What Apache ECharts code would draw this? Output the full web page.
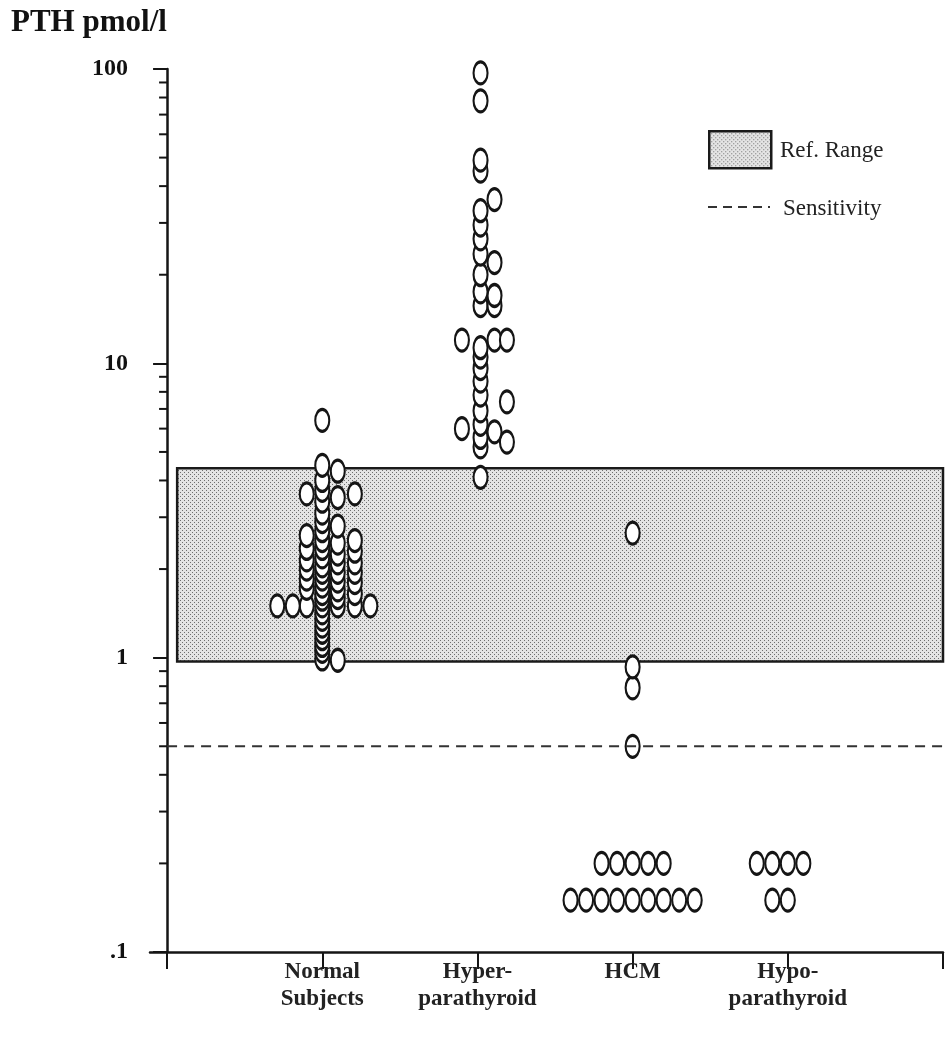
<!DOCTYPE html>
<html><head><meta charset="utf-8">
<script src="https://cdn.jsdelivr.net/npm/echarts@6/dist/echarts.min.js"></script>
<style>html,body{margin:0;padding:0;background:#fff}#c{width:946px;height:1049px}</style>
</head><body><div id="c"></div>
<script>
// ---- data ----
const categories = ['Normal\nSubjects', 'Hyper-\nparathyroid', 'HCM', 'Hypo-\nparathyroid'];
const categoryPositions = [1, 2, 3, 4];
const xTickValues = [0, 1, 2, 3, 4, 5];
const yTickValues = [0.1, 1, 10, 100];
const yTickLabels = ['.1', '1', '10', '100'];
const yMinorTicks = [0.2,0.3,0.4,0.5,0.6,0.7,0.8,0.9, 2,3,4,5,6,7,8,9, 20,30,40,50,60,70,80,90];
const refRange = [0.97, 4.4];
const refRangeX = [0.065, 5];
const sensitivity = 0.5;
const sensitivityX = [0, 5];

const normalPts = [
  [1.0,6.4],[1.0,4.5],[1.0,4.0],[1.0,3.7],[1.0,3.4],[1.0,3.1],[1.0,2.9],[1.0,2.7],[1.0,2.5],[1.0,2.35],
  [1.0,2.2],[1.0,2.05],[1.0,1.95],[1.0,1.85],[1.0,1.75],[1.0,1.65],[1.0,1.58],[1.0,1.5],[1.0,1.42],
  [1.0,1.35],[1.0,1.28],[1.0,1.22],[1.0,1.16],[1.0,1.1],[1.0,1.05],[1.0,0.99],
  [1.1,4.3],[1.1,3.5],[1.1,2.8],[1.1,2.45],[1.1,2.25],[1.1,2.1],[1.1,1.95],[1.1,1.82],[1.1,1.7],
  [1.1,1.6],[1.1,1.5],[1.1,0.98],
  [0.9,3.6],[0.9,2.6],[0.9,2.35],[0.9,2.15],[0.9,2.0],[0.9,1.85],[0.9,1.72],[0.9,1.5],
  [1.21,3.6],[1.21,2.5],[1.21,2.3],[1.21,2.1],[1.21,1.95],[1.21,1.8],[1.21,1.65],[1.21,1.5],
  [0.71,1.5],[0.81,1.5],[1.31,1.5]
];
const hyperPts = [
  [2.02,97],[2.02,78],[2.02,49],[2.02,45],[2.11,36],[2.02,33],[2.02,29.5],[2.02,26.5],[2.02,23.5],
  [2.11,22],[2.02,20],[2.02,17.5],[2.11,17],[2.02,15.7],[2.11,15.7],[1.9,12],[2.11,12],[2.19,12],
  [2.02,11.3],[2.02,10.5],[2.02,9.6],[2.02,8.7],[2.02,7.8],[2.19,7.4],[2.02,6.9],[2.02,6.2],
  [1.9,6.0],[2.11,5.85],[2.02,5.6],[2.19,5.4],[2.02,5.2],[2.02,4.1]
];
const hcmPts = [
  [3.0,2.65],[3.0,0.93],[3.0,0.79],[3.0,0.5],
  [2.8,0.2],[2.9,0.2],[3.0,0.2],[3.1,0.2],[3.2,0.2],
  [2.6,0.15],[2.7,0.15],[2.8,0.15],[2.9,0.15],[3.0,0.15],[3.1,0.15],[3.2,0.15],[3.3,0.15],[3.4,0.15]
];
const hypoPts = [
  [3.8,0.2],[3.9,0.2],[4.0,0.2],[4.1,0.2],
  [3.9,0.15],[4.0,0.15]
];

// ---- rendering ----
const SERIF = "'Liberation Serif','Times New Roman',serif";
function makePattern() {
  const c = document.createElement('canvas');
  c.width = 4; c.height = 4;
  const g = c.getContext('2d');
  g.fillStyle = '#e4e4e4'; g.fillRect(0, 0, 4, 4);
  g.fillStyle = '#6e6e6e';
  g.fillRect(0, 0, 1, 1); g.fillRect(2, 2, 1, 1);
  return c;
}
const pattern = makePattern();
const sorted = arr => arr.slice().sort((a, b) => a[1] - b[1]);

const scatterStyle = {
  type: 'scatter', symbol: 'circle', symbolSize: [14, 22], z: 5,
  itemStyle: { color: '#ffffff', borderColor: '#151515', borderWidth: 2.6, opacity: 1 },
  emphasis: { disabled: true }, silent: true
};

const chart = echarts.init(document.getElementById('c'), null, { renderer: 'canvas' });
chart.setOption({
  animation: false,
  backgroundColor: '#ffffff',
  title: {
    text: 'PTH pmol/l', left: 6, top: 2,
    textStyle: { fontFamily: SERIF, fontWeight: 'bold', fontSize: 31, color: '#111' }
  },
  grid: { left: 150, right: 3, top: 69, bottom: 97 },
  xAxis: {
    type: 'value', min: -0.11, max: 5,
    axisLine: { onZero: false, lineStyle: { color: '#151515', width: 2.5 } },
    axisTick: { show: true, customValues: xTickValues, length: 17, lineStyle: { color: '#151515', width: 2 } },
    axisLabel: {
      customValues: categoryPositions, margin: 7,
      formatter: v => { const i = categoryPositions.indexOf(Math.round(v)); return i >= 0 ? categories[i] : ''; },
      fontFamily: SERIF, fontWeight: 'bold', fontSize: 23, lineHeight: 27, color: '#222'
    },
    splitLine: { show: false }
  },
  yAxis: {
    type: 'log', logBase: 10, min: 0.1, max: 100,
    axisLine: { onZero: true, lineStyle: { color: '#151515', width: 2.5 } },
    axisTick: { show: true, length: 14, lineStyle: { color: '#151515', width: 2 } },
    axisLabel: {
      margin: 22, fontFamily: SERIF, fontWeight: 'bold', fontSize: 24, color: '#111',
      formatter: v => {
        for (let i = 0; i < yTickValues.length; i++) {
          if (Math.abs(Math.log10(v) - Math.log10(yTickValues[i])) < 1e-6) return yTickLabels[i];
        }
        return '';
      }
    },
    splitLine: { show: false }
  },
  series: [
    {
      type: 'custom', name: 'Ref. Range', z: 2, silent: true,
      data: [[refRangeX[0], refRangeX[1], refRange[0], refRange[1]]],
      renderItem: (params, api) => {
        const p1 = api.coord([api.value(0), api.value(3)]);
        const p2 = api.coord([api.value(1), api.value(2)]);
        return {
          type: 'rect',
          shape: { x: p1[0], y: p1[1], width: p2[0] - p1[0], height: p2[1] - p1[1] },
          style: { fill: { image: pattern, repeat: 'repeat' }, stroke: '#1a1a1a', lineWidth: 2.5 }
        };
      }
    },
    {
      type: 'custom', name: 'minorTicks', z: 3, silent: true,
      data: yMinorTicks.map(v => [0, v]),
      renderItem: (params, api) => {
        const p = api.coord([api.value(0), api.value(1)]);
        return {
          type: 'line',
          shape: { x1: p[0] - 8, y1: p[1], x2: p[0], y2: p[1] },
          style: { stroke: '#151515', lineWidth: 2 }
        };
      }
    },
    Object.assign({ name: 'Normal Subjects', data: sorted(normalPts) }, scatterStyle),
    Object.assign({ name: 'Hyperparathyroid', data: sorted(hyperPts) }, scatterStyle),
    Object.assign({ name: 'HCM', data: sorted(hcmPts) }, scatterStyle),
    Object.assign({ name: 'Hypoparathyroid', data: sorted(hypoPts) }, scatterStyle),
    {
      type: 'line', name: 'Sensitivity', z: 6, silent: true, symbol: 'none',
      data: [[sensitivityX[0], sensitivity], [sensitivityX[1], sensitivity]],
      lineStyle: { color: '#333', width: 2, type: [10, 7] }
    }
  ],
  graphic: [
    { type: 'rect', left: 708, top: 130, shape: { width: 62, height: 37 },
      style: { fill: { image: pattern, repeat: 'repeat' }, stroke: '#1a1a1a', lineWidth: 2.5 } },
    { type: 'text', left: 780, top: 139, style: { text: 'Ref. Range', fontFamily: SERIF, fontSize: 23, fill: '#222' } },
    { type: 'line', shape: { x1: 708, y1: 207, x2: 770, y2: 207 },
      style: { stroke: '#333', lineWidth: 2, lineDash: [9, 6] } },
    { type: 'text', left: 783, top: 197, style: { text: 'Sensitivity', fontFamily: SERIF, fontSize: 23, fill: '#222' } }
  ]
});
</script></body></html>
